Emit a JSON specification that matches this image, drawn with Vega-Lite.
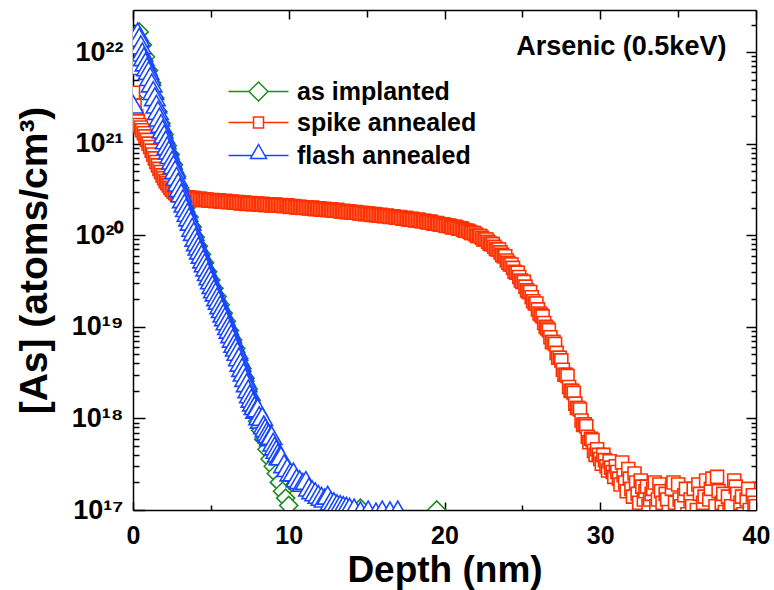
{
"$schema": "https://vega.github.io/schema/vega-lite/v6.json",
"width": 623, "height": 500,
"autosize": {"type": "none"},
"padding": {"left": 133, "top": 10, "right": 18, "bottom": 80},
"background": "white",
"config": {
  "font": "Liberation Sans",
  "view": {"stroke": null},
  "axis": {"domainColor": "black", "domainWidth": 1.5, "tickColor": "black", "tickWidth": 1.5, "grid": false,
           "labelFont": "Liberation Sans", "labelFontWeight": "bold", "labelColor": "black",
           "titleFont": "Liberation Sans", "titleFontWeight": "bold", "titleColor": "black",
           "labelFlush": false, "labelBound": false, "labelOverlap": false}
},
"datasets": {
"pts": [
{"s":"g","d":0,"c":3.2e21},{"s":"g","d":0.2,"c":1.26e22},{"s":"g","d":0.4,"c":1.66e22},{"s":"g","d":0.6,"c":1.2e22},{"s":"g","d":0.8,"c":8.9e21},{"s":"g","d":1.0,"c":6.3e21},{"s":"g","d":1.2,"c":4.6e21},{"s":"g","d":1.4,"c":3.16e21},{"s":"g","d":1.6,"c":2.24e21},{"s":"g","d":1.8,"c":1.66e21},{"s":"g","d":2.0,"c":1.26e21},{"s":"g","d":2.2,"c":9.5e20},{"s":"g","d":2.4,"c":7.6e20},{"s":"g","d":2.6,"c":5.9e20},{"s":"g","d":2.8,"c":4.4e20},{"s":"g","d":3.0,"c":3.3e20},{"s":"g","d":3.2,"c":2.5e20},{"s":"g","d":3.4,"c":2.0e20},{"s":"g","d":3.6,"c":1.58e20},{"s":"g","d":3.8,"c":1.23e20},{"s":"g","d":4.0,"c":9.5e19},{"s":"g","d":4.2,"c":7.6e19},{"s":"g","d":4.4,"c":6.2e19},{"s":"g","d":4.6,"c":5.0e19},{"s":"g","d":4.8,"c":4.0e19},{"s":"g","d":5.0,"c":3.24e19},{"s":"g","d":5.2,"c":2.63e19},{"s":"g","d":5.4,"c":2.14e19},{"s":"g","d":5.6,"c":1.74e19},{"s":"g","d":5.8,"c":1.41e19},{"s":"g","d":6.0,"c":1.15e19},{"s":"g","d":6.2,"c":9.1e18},{"s":"g","d":6.4,"c":7.2e18},{"s":"g","d":6.6,"c":5.8e18},{"s":"g","d":6.8,"c":4.5e18},{"s":"g","d":7.0,"c":3.5e18},{"s":"g","d":7.2,"c":2.75e18},{"s":"g","d":7.4,"c":2.1e18},{"s":"g","d":7.6,"c":1.58e18},{"s":"g","d":7.8,"c":1.2e18},{"s":"g","d":8.0,"c":9.3e17},{"s":"g","d":8.2,"c":7.4e17},{"s":"g","d":8.4,"c":5.9e17},{"s":"g","d":8.6,"c":4.6e17},{"s":"g","d":8.8,"c":3.6e17},{"s":"g","d":9.0,"c":3.0e17},{"s":"g","d":9.2,"c":2.5e17},{"s":"g","d":9.4,"c":2.0e17},{"s":"g","d":9.6,"c":1.6e17},{"s":"g","d":9.8,"c":1.35e17},{"s":"g","d":10.0,"c":1.12e17},{"s":"g","d":14.6,"c":1.05e17},{"s":"g","d":19.5,"c":1.0e17},
{"s":"r","d":0,"c":3.6e21},{"s":"r","d":0.1,"c":2.6e21},{"s":"r","d":0.2,"c":2.0e21},{"s":"r","d":0.3,"c":1.75e21},{"s":"r","d":0.4,"c":1.6e21},{"s":"r","d":0.5,"c":1.5e21},{"s":"r","d":0.6,"c":1.4e21},{"s":"r","d":0.7,"c":1.3e21},{"s":"r","d":0.8,"c":1.2e21},{"s":"r","d":0.9,"c":1.1e21},{"s":"r","d":1.0,"c":1.0e21},{"s":"r","d":1.1,"c":9.2e20},{"s":"r","d":1.2,"c":8.4e20},{"s":"r","d":1.3,"c":7.6e20},{"s":"r","d":1.4,"c":6.9e20},{"s":"r","d":1.5,"c":6.3e20},{"s":"r","d":1.6,"c":5.8e20},{"s":"r","d":1.7,"c":5.3e20},{"s":"r","d":1.8,"c":4.9e20},{"s":"r","d":1.9,"c":4.5e20},{"s":"r","d":2.0,"c":4.2e20},{"s":"r","d":2.1,"c":3.9e20},{"s":"r","d":2.2,"c":3.7e20},{"s":"r","d":2.3,"c":3.5e20},{"s":"r","d":2.4,"c":3.3e20},{"s":"r","d":2.5,"c":3.15e20},{"s":"r","d":2.6,"c":3.0e20},{"s":"r","d":2.7,"c":2.9e20},{"s":"r","d":2.8,"c":2.8e20},{"s":"r","d":2.9,"c":2.75e20},{"s":"r","d":3.0,"c":2.7e20},
{"s":"r","d":3.1,"c":2.68e20},{"s":"r","d":3.2,"c":2.64e20},{"s":"r","d":3.3,"c":2.58e20},{"s":"r","d":3.4,"c":2.6e20},{"s":"r","d":3.5,"c":2.6e20},{"s":"r","d":3.6,"c":2.56e20},{"s":"r","d":3.7,"c":2.52e20},{"s":"r","d":3.8,"c":2.54e20},{"s":"r","d":3.9,"c":2.55e20},{"s":"r","d":4.0,"c":2.5e20},{"s":"r","d":4.1,"c":2.47e20},{"s":"r","d":4.2,"c":2.5e20},{"s":"r","d":4.3,"c":2.5e20},{"s":"r","d":4.4,"c":2.46e20},{"s":"r","d":4.5,"c":2.42e20},{"s":"r","d":4.6,"c":2.45e20},{"s":"r","d":4.7,"c":2.46e20},{"s":"r","d":4.8,"c":2.42e20},{"s":"r","d":4.9,"c":2.38e20},{"s":"r","d":5.0,"c":2.4e20},{"s":"r","d":5.1,"c":2.43e20},{"s":"r","d":5.2,"c":2.41e20},{"s":"r","d":5.3,"c":2.36e20},{"s":"r","d":5.4,"c":2.38e20},{"s":"r","d":5.5,"c":2.39e20},{"s":"r","d":5.6,"c":2.36e20},{"s":"r","d":5.7,"c":2.33e20},{"s":"r","d":5.8,"c":2.35e20},{"s":"r","d":5.9,"c":2.37e20},{"s":"r","d":6.0,"c":2.34e20},{"s":"r","d":6.1,"c":2.3e20},{"s":"r","d":6.2,"c":2.32e20},{"s":"r","d":6.3,"c":2.34e20},{"s":"r","d":6.4,"c":2.3e20},{"s":"r","d":6.5,"c":2.26e20},{"s":"r","d":6.6,"c":2.28e20},{"s":"r","d":6.7,"c":2.3e20},{"s":"r","d":6.8,"c":2.27e20},{"s":"r","d":6.9,"c":2.23e20},{"s":"r","d":7.0,"c":2.25e20},{"s":"r","d":7.1,"c":2.27e20},{"s":"r","d":7.2,"c":2.24e20},{"s":"r","d":7.3,"c":2.2e20},{"s":"r","d":7.4,"c":2.22e20},{"s":"r","d":7.5,"c":2.24e20},{"s":"r","d":7.6,"c":2.21e20},{"s":"r","d":7.7,"c":2.18e20},{"s":"r","d":7.8,"c":2.2e20},{"s":"r","d":7.9,"c":2.22e20},{"s":"r","d":8.0,"c":2.2e20},{"s":"r","d":8.1,"c":2.16e20},{"s":"r","d":8.2,"c":2.18e20},{"s":"r","d":8.3,"c":2.2e20},{"s":"r","d":8.4,"c":2.17e20},{"s":"r","d":8.5,"c":2.13e20},{"s":"r","d":8.6,"c":2.16e20},{"s":"r","d":8.7,"c":2.18e20},{"s":"r","d":8.8,"c":2.15e20},{"s":"r","d":8.9,"c":2.12e20},{"s":"r","d":9.0,"c":2.14e20},{"s":"r","d":9.1,"c":2.16e20},{"s":"r","d":9.2,"c":2.13e20},{"s":"r","d":9.3,"c":2.1e20},{"s":"r","d":9.4,"c":2.12e20},{"s":"r","d":9.5,"c":2.14e20},{"s":"r","d":9.6,"c":2.1e20},{"s":"r","d":9.7,"c":2.08e20},{"s":"r","d":9.8,"c":2.1e20},{"s":"r","d":9.9,"c":2.12e20},{"s":"r","d":10.0,"c":2.08e20},{"s":"r","d":10.1,"c":2.04e20},{"s":"r","d":10.2,"c":2.06e20},{"s":"r","d":10.3,"c":2.08e20},{"s":"r","d":10.4,"c":2.05e20},{"s":"r","d":10.5,"c":2.01e20},{"s":"r","d":10.6,"c":2.03e20},{"s":"r","d":10.7,"c":2.05e20},{"s":"r","d":10.8,"c":2.02e20},{"s":"r","d":10.9,"c":1.99e20},{"s":"r","d":11.0,"c":2.0e20},{"s":"r","d":11.1,"c":2.02e20},{"s":"r","d":11.2,"c":1.99e20},{"s":"r","d":11.3,"c":1.96e20},{"s":"r","d":11.4,"c":1.98e20},{"s":"r","d":11.5,"c":2.0e20},{"s":"r","d":11.6,"c":1.96e20},{"s":"r","d":11.7,"c":1.93e20},{"s":"r","d":11.8,"c":1.95e20},{"s":"r","d":11.9,"c":1.97e20},{"s":"r","d":12.0,"c":1.94e20},{"s":"r","d":12.1,"c":1.9e20},{"s":"r","d":12.2,"c":1.92e20},{"s":"r","d":12.3,"c":1.94e20},{"s":"r","d":12.4,"c":1.91e20},{"s":"r","d":12.5,"c":1.88e20},{"s":"r","d":12.6,"c":1.9e20},{"s":"r","d":12.7,"c":1.92e20},{"s":"r","d":12.8,"c":1.88e20},{"s":"r","d":12.9,"c":1.85e20},{"s":"r","d":13.0,"c":1.87e20},{"s":"r","d":13.1,"c":1.89e20},{"s":"r","d":13.2,"c":1.85e20},{"s":"r","d":13.3,"c":1.82e20},{"s":"r","d":13.4,"c":1.83e20},{"s":"r","d":13.5,"c":1.85e20},{"s":"r","d":13.6,"c":1.82e20},{"s":"r","d":13.7,"c":1.79e20},{"s":"r","d":13.8,"c":1.8e20},{"s":"r","d":13.9,"c":1.82e20},{"s":"r","d":14.0,"c":1.79e20},{"s":"r","d":14.1,"c":1.76e20},{"s":"r","d":14.2,"c":1.77e20},{"s":"r","d":14.3,"c":1.79e20},{"s":"r","d":14.4,"c":1.76e20},{"s":"r","d":14.5,"c":1.73e20},{"s":"r","d":14.6,"c":1.74e20},{"s":"r","d":14.7,"c":1.76e20},{"s":"r","d":14.8,"c":1.73e20},{"s":"r","d":14.9,"c":1.7e20},{"s":"r","d":15.0,"c":1.71e20},{"s":"r","d":15.1,"c":1.73e20},{"s":"r","d":15.2,"c":1.7e20},{"s":"r","d":15.3,"c":1.67e20},{"s":"r","d":15.4,"c":1.68e20},{"s":"r","d":15.5,"c":1.7e20},{"s":"r","d":15.6,"c":1.67e20},{"s":"r","d":15.7,"c":1.64e20},{"s":"r","d":15.8,"c":1.65e20},{"s":"r","d":15.9,"c":1.67e20},{"s":"r","d":16.0,"c":1.64e20},{"s":"r","d":16.1,"c":1.61e20},{"s":"r","d":16.2,"c":1.62e20},{"s":"r","d":16.3,"c":1.64e20},{"s":"r","d":16.4,"c":1.61e20},{"s":"r","d":16.5,"c":1.58e20},{"s":"r","d":16.6,"c":1.59e20},{"s":"r","d":16.7,"c":1.61e20},{"s":"r","d":16.8,"c":1.58e20},{"s":"r","d":16.9,"c":1.55e20},{"s":"r","d":17.0,"c":1.56e20},{"s":"r","d":17.1,"c":1.58e20},{"s":"r","d":17.2,"c":1.55e20},{"s":"r","d":17.3,"c":1.52e20},{"s":"r","d":17.4,"c":1.53e20},{"s":"r","d":17.5,"c":1.55e20},{"s":"r","d":17.6,"c":1.51e20},{"s":"r","d":17.7,"c":1.48e20},{"s":"r","d":17.8,"c":1.5e20},{"s":"r","d":17.9,"c":1.51e20},{"s":"r","d":18.0,"c":1.48e20},{"s":"r","d":18.1,"c":1.45e20},{"s":"r","d":18.2,"c":1.46e20},{"s":"r","d":18.3,"c":1.48e20},{"s":"r","d":18.4,"c":1.45e20},{"s":"r","d":18.5,"c":1.42e20},{"s":"r","d":18.6,"c":1.43e20},{"s":"r","d":18.7,"c":1.44e20},{"s":"r","d":18.8,"c":1.41e20},{"s":"r","d":18.9,"c":1.38e20},{"s":"r","d":19.0,"c":1.39e20},{"s":"r","d":19.1,"c":1.41e20},{"s":"r","d":19.2,"c":1.37e20},{"s":"r","d":19.3,"c":1.34e20},{"s":"r","d":19.4,"c":1.35e20},{"s":"r","d":19.5,"c":1.36e20},{"s":"r","d":19.6,"c":1.33e20},{"s":"r","d":19.7,"c":1.3e20},{"s":"r","d":19.8,"c":1.31e20},{"s":"r","d":19.9,"c":1.32e20},{"s":"r","d":20.0,"c":1.29e20},{"s":"r","d":20.1,"c":1.26e20},{"s":"r","d":20.2,"c":1.27e20},{"s":"r","d":20.3,"c":1.28e20},{"s":"r","d":20.4,"c":1.25e20},{"s":"r","d":20.5,"c":1.22e20},{"s":"r","d":20.6,"c":1.23e20},{"s":"r","d":20.7,"c":1.24e20},{"s":"r","d":20.8,"c":1.21e20},{"s":"r","d":20.9,"c":1.18e20},{"s":"r","d":21.0,"c":1.18e20},{"s":"r","d":21.1,"c":1.18e20},{"s":"r","d":21.2,"c":1.15e20},{"s":"r","d":21.3,"c":1.12e20},{"s":"r","d":21.4,"c":1.12e20},{"s":"r","d":21.5,"c":1.12e20},{"s":"r","d":21.6,"c":1.09e20},{"s":"r","d":21.7,"c":1.06e20},{"s":"r","d":21.8,"c":1.06e20},{"s":"r","d":21.9,"c":1.06e20},{"s":"r","d":22.0,"c":1.02e20},{"s":"r","d":22.1,"c":9.8e19},{"s":"r","d":22.2,"c":9.8e19},{"s":"r","d":22.3,"c":9.8e19},{"s":"r","d":22.4,"c":9.4e19},{"s":"r","d":22.5,"c":9.0e19},{"s":"r","d":22.6,"c":9.0e19},{"s":"r","d":22.7,"c":9.0e19},{"s":"r","d":22.8,"c":8.5e19},{"s":"r","d":22.9,"c":8.1e19},{"s":"r","d":23.0,"c":8.0e19},{"s":"r","d":23.1,"c":8.0e19},{"s":"r","d":23.2,"c":7.5e19},{"s":"r","d":23.3,"c":7.1e19},{"s":"r","d":23.4,"c":7.0e19},{"s":"r","d":23.5,"c":7.0e19},{"s":"r","d":23.6,"c":6.5e19},{"s":"r","d":23.7,"c":6.1e19},{"s":"r","d":23.8,"c":5.9e19},{"s":"r","d":23.9,"c":5.9e19},{"s":"r","d":24.0,"c":5.3e19},{"s":"r","d":24.1,"c":5.0e19},{"s":"r","d":24.2,"c":4.8e19},{"s":"r","d":24.3,"c":4.8e19},{"s":"r","d":24.4,"c":4.4e19},{"s":"r","d":24.5,"c":4.0e19},{"s":"r","d":24.6,"c":3.9e19},{"s":"r","d":24.7,"c":3.9e19},{"s":"r","d":24.8,"c":3.5e19},{"s":"r","d":24.9,"c":3.2e19},{"s":"r","d":25.0,"c":3.1e19},{"s":"r","d":25.1,"c":3.1e19},{"s":"r","d":25.2,"c":2.75e19},{"s":"r","d":25.3,"c":2.5e19},{"s":"r","d":25.4,"c":2.4e19},{"s":"r","d":25.5,"c":2.4e19},{"s":"r","d":25.6,"c":2.1e19},{"s":"r","d":25.7,"c":1.9e19},{"s":"r","d":25.8,"c":1.8e19},{"s":"r","d":25.9,"c":1.8e19},{"s":"r","d":26.0,"c":1.55e19},{"s":"r","d":26.1,"c":1.4e19},{"s":"r","d":26.2,"c":1.35e19},{"s":"r","d":26.3,"c":1.3e19},{"s":"r","d":26.4,"c":1.1e19},{"s":"r","d":26.5,"c":1.0e19},{"s":"r","d":26.6,"c":9.6e18},{"s":"r","d":26.7,"c":9.2e18},{"s":"r","d":26.8,"c":7.7e18},{"s":"r","d":26.9,"c":6.8e18},{"s":"r","d":27.0,"c":6.8e18},{"s":"r","d":27.1,"c":6.5e18},{"s":"r","d":27.2,"c":5.2e18},{"s":"r","d":27.3,"c":4.6e18},{"s":"r","d":27.4,"c":4.6e18},{"s":"r","d":27.5,"c":4.3e18},{"s":"r","d":27.6,"c":3.4e18},{"s":"r","d":27.7,"c":3.0e18},{"s":"r","d":27.8,"c":3.0e18},{"s":"r","d":27.9,"c":2.9e18},{"s":"r","d":28.0,"c":2.2e18},{"s":"r","d":28.1,"c":2.0e18},{"s":"r","d":28.2,"c":2.0e18},{"s":"r","d":28.3,"c":1.9e18},{"s":"r","d":28.4,"c":1.45e18},{"s":"r","d":28.5,"c":1.3e18},{"s":"r","d":28.6,"c":1.3e18},{"s":"r","d":28.7,"c":1.25e18},{"s":"r","d":28.8,"c":9.5e17},{"s":"r","d":28.9,"c":8.5e17},{"s":"r","d":29.0,"c":8.6e17},{"s":"r","d":29.1,"c":8.2e17},{"s":"r","d":29.2,"c":6.3e17},{"s":"r","d":29.3,"c":5.5e17},{"s":"r","d":29.4,"c":6.0e17},{"s":"r","d":29.5,"c":5.8e17},{"s":"r","d":29.6,"c":4.4e17},{"s":"r","d":29.7,"c":4.0e17},{"s":"r","d":29.8,"c":4.6e17},{"s":"r","d":29.9,"c":4.0e17},{"s":"r","d":30.0,"c":3.6e17},{"s":"r","d":30.1,"c":3.2e17},{"s":"r","d":30.2,"c":4.0e17},{"s":"r","d":30.3,"c":3.5e17},{"s":"r","d":30.4,"c":3.0e17},{"s":"r","d":30.5,"c":2.7e17},{"s":"r","d":30.6,"c":3.4e17},{"s":"r","d":30.7,"c":2.9e17},{"s":"r","d":30.8,"c":2.6e17},{"s":"r","d":30.9,"c":2.3e17},{"s":"r","d":31.0,"c":3.0e17},{"s":"r","d":31.1,"c":2.6e17},{"s":"r","d":31.2,"c":2.2e17},{"s":"r","d":31.3,"c":1.9e17},{"s":"r","d":31.4,"c":3.3e17},{"s":"r","d":31.5,"c":2.4e17},{"s":"r","d":31.6,"c":2.0e17},{"s":"r","d":31.7,"c":1.6e17},{"s":"r","d":31.8,"c":2.8e17},{"s":"r","d":31.9,"c":2.2e17},{"s":"r","d":32.0,"c":1.7e17},{"s":"r","d":32.1,"c":1.4e17},{"s":"r","d":32.2,"c":2.5e17},{"s":"r","d":32.3,"c":2.0e17},{"s":"r","d":32.4,"c":1.5e17},{"s":"r","d":32.5,"c":1.2e17},{"s":"r","d":32.6,"c":2.1e17},{"s":"r","d":32.7,"c":1.8e17},{"s":"r","d":32.8,"c":1.3e17},{"s":"r","d":32.9,"c":1.6e17},{"s":"r","d":33.0,"c":1.8e17},{"s":"r","d":33.1,"c":1.1e17},{"s":"r","d":33.2,"c":1.3e17},{"s":"r","d":33.3,"c":1.5e17},{"s":"r","d":33.4,"c":1.7e17},{"s":"r","d":33.5,"c":2.0e17},{"s":"r","d":33.6,"c":1.1e17},{"s":"r","d":33.7,"c":1.3e17},{"s":"r","d":33.8,"c":1.9e17},{"s":"r","d":33.9,"c":1.6e17},{"s":"r","d":34.0,"c":1.2e17},{"s":"r","d":34.2,"c":1.5e17},{"s":"r","d":34.3,"c":1.3e17},{"s":"r","d":34.4,"c":0.95e17},{"s":"r","d":34.6,"c":1.7e17},{"s":"r","d":34.7,"c":2.0e17},{"s":"r","d":34.8,"c":1.2e17},{"s":"r","d":35.0,"c":1.9e17},{"s":"r","d":35.1,"c":1.3e17},{"s":"r","d":35.2,"c":1.1e17},{"s":"r","d":35.4,"c":1.45e17},{"s":"r","d":35.5,"c":1.7e17},{"s":"r","d":35.6,"c":0.9e17},{"s":"r","d":35.8,"c":1.3e17},{"s":"r","d":35.9,"c":1.1e17},{"s":"r","d":36.0,"c":1.7e17},{"s":"r","d":36.2,"c":1.0e17},{"s":"r","d":36.3,"c":1.9e17},{"s":"r","d":36.4,"c":1.5e17},{"s":"r","d":36.6,"c":1.2e17},{"s":"r","d":36.7,"c":1.4e17},{"s":"r","d":36.8,"c":2.1e17},{"s":"r","d":37.0,"c":1.3e17},{"s":"r","d":37.1,"c":1.7e17},{"s":"r","d":37.2,"c":2.2e17},{"s":"r","d":37.4,"c":1.1e17},{"s":"r","d":37.5,"c":2.3e17},{"s":"r","d":37.6,"c":1.6e17},{"s":"r","d":37.8,"c":1.2e17},{"s":"r","d":37.9,"c":1.5e17},{"s":"r","d":38.0,"c":0.95e17},{"s":"r","d":38.2,"c":1.4e17},{"s":"r","d":38.3,"c":1.0e17},{"s":"r","d":38.4,"c":1.1e17},{"s":"r","d":38.6,"c":2.1e17},{"s":"r","d":38.7,"c":1.8e17},{"s":"r","d":38.8,"c":1.5e17},{"s":"r","d":39.0,"c":1.2e17},{"s":"r","d":39.1,"c":1.4e17},{"s":"r","d":39.2,"c":0.9e17},{"s":"r","d":39.4,"c":1.3e17},{"s":"r","d":39.5,"c":1.7e17},{"s":"r","d":39.6,"c":1.0e17},{"s":"r","d":39.8,"c":1.45e17},{"s":"r","d":39.9,"c":1.2e17},{"s":"r","d":40.0,"c":1.1e17},
{"s":"b","d":0,"c":2.7e21},{"s":"b","d":0.1,"c":7.1e21},{"s":"b","d":0.2,"c":1.41e22},{"s":"b","d":0.3,"c":1.66e22},{"s":"b","d":0.4,"c":1.45e22},{"s":"b","d":0.5,"c":1.2e22},{"s":"b","d":0.6,"c":1.0e22},{"s":"b","d":0.7,"c":8.9e21},{"s":"b","d":0.8,"c":7.8e21},{"s":"b","d":0.9,"c":6.9e21},{"s":"b","d":1.0,"c":6.3e21},{"s":"b","d":1.1,"c":5.4e21},{"s":"b","d":1.2,"c":4.6e21},{"s":"b","d":1.3,"c":3.8e21},{"s":"b","d":1.4,"c":3.25e21},{"s":"b","d":1.5,"c":2.7e21},{"s":"b","d":1.6,"c":2.3e21},{"s":"b","d":1.7,"c":1.95e21},{"s":"b","d":1.8,"c":1.66e21},{"s":"b","d":1.9,"c":1.44e21},{"s":"b","d":2.0,"c":1.27e21},{"s":"b","d":2.1,"c":1.1e21},{"s":"b","d":2.2,"c":9.5e20},{"s":"b","d":2.3,"c":8.5e20},{"s":"b","d":2.4,"c":7.6e20},{"s":"b","d":2.5,"c":6.6e20},{"s":"b","d":2.6,"c":5.9e20},{"s":"b","d":2.7,"c":5.2e20},{"s":"b","d":2.8,"c":4.4e20},{"s":"b","d":2.9,"c":3.8e20},{"s":"b","d":3.0,"c":3.3e20},{"s":"b","d":3.1,"c":2.9e20},{"s":"b","d":3.2,"c":2.5e20},{"s":"b","d":3.3,"c":2.24e20},{"s":"b","d":3.4,"c":2.0e20},{"s":"b","d":3.5,"c":1.78e20},{"s":"b","d":3.6,"c":1.58e20},{"s":"b","d":3.7,"c":1.42e20},{"s":"b","d":3.8,"c":1.22e20},{"s":"b","d":3.9,"c":1.1e20},{"s":"b","d":4.0,"c":9.5e19},{"s":"b","d":4.1,"c":8.5e19},{"s":"b","d":4.2,"c":7.6e19},{"s":"b","d":4.3,"c":6.9e19},{"s":"b","d":4.4,"c":6.2e19},{"s":"b","d":4.5,"c":5.5e19},{"s":"b","d":4.6,"c":5.0e19},{"s":"b","d":4.7,"c":4.5e19},{"s":"b","d":4.8,"c":4.0e19},{"s":"b","d":4.9,"c":3.6e19},{"s":"b","d":5.0,"c":3.25e19},{"s":"b","d":5.1,"c":2.9e19},{"s":"b","d":5.2,"c":2.6e19},{"s":"b","d":5.3,"c":2.4e19},{"s":"b","d":5.4,"c":2.13e19},{"s":"b","d":5.5,"c":1.95e19},{"s":"b","d":5.6,"c":1.74e19},{"s":"b","d":5.7,"c":1.58e19},{"s":"b","d":5.8,"c":1.41e19},{"s":"b","d":5.9,"c":1.29e19},{"s":"b","d":6.0,"c":1.16e19},{"s":"b","d":6.1,"c":1.03e19},{"s":"b","d":6.2,"c":9.4e18},{"s":"b","d":6.3,"c":8.4e18},{"s":"b","d":6.4,"c":7.5e18},{"s":"b","d":6.5,"c":6.6e18},{"s":"b","d":6.6,"c":6.0e18},{"s":"b","d":6.7,"c":5.4e18},{"s":"b","d":6.8,"c":4.7e18},{"s":"b","d":6.9,"c":4.1e18},{"s":"b","d":7.0,"c":3.6e18},{"s":"b","d":7.1,"c":3.2e18},{"s":"b","d":7.2,"c":2.8e18},{"s":"b","d":7.3,"c":2.45e18},{"s":"b","d":7.4,"c":2.1e18},{"s":"b","d":7.5,"c":1.85e18},{"s":"b","d":7.6,"c":1.66e18},{"s":"b","d":7.7,"c":1.51e18},{"s":"b","d":7.8,"c":1.38e18},{"s":"b","d":7.9,"c":1.26e18},{"s":"b","d":8.0,"c":1.3e18},{"s":"b","d":8.1,"c":1.07e18},{"s":"b","d":8.2,"c":9.8e17},{"s":"b","d":8.3,"c":1.05e18},{"s":"b","d":8.4,"c":8.5e17},{"s":"b","d":8.5,"c":7.9e17},{"s":"b","d":8.6,"c":7.2e17},{"s":"b","d":8.7,"c":6.8e17},{"s":"b","d":8.8,"c":6.3e17},{"s":"b","d":8.9,"c":6.5e17},{"s":"b","d":9.0,"c":5.5e17},{"s":"b","d":9.1,"c":5.0e17},{"s":"b","d":9.2,"c":4.6e17},{"s":"b","d":9.3,"c":4.2e17},{"s":"b","d":9.4,"c":3.9e17},{"s":"b","d":9.5,"c":3.9e17},{"s":"b","d":9.7,"c":3.2e17},{"s":"b","d":9.9,"c":2.9e17},{"s":"b","d":10.1,"c":2.6e17},{"s":"b","d":10.3,"c":2.6e17},{"s":"b","d":10.5,"c":2.24e17},{"s":"b","d":10.7,"c":2.14e17},{"s":"b","d":10.9,"c":2.0e17},{"s":"b","d":11.1,"c":2.1e17},{"s":"b","d":11.3,"c":1.78e17},{"s":"b","d":11.5,"c":1.66e17},{"s":"b","d":11.7,"c":1.58e17},{"s":"b","d":11.9,"c":1.48e17},{"s":"b","d":12.1,"c":1.41e17},{"s":"b","d":12.3,"c":1.35e17},{"s":"b","d":12.5,"c":1.45e17},{"s":"b","d":12.7,"c":1.26e17},{"s":"b","d":12.9,"c":1.23e17},{"s":"b","d":13.1,"c":1.17e17},{"s":"b","d":13.3,"c":1.15e17},{"s":"b","d":13.5,"c":1.12e17},{"s":"b","d":13.7,"c":1.1e17},{"s":"b","d":13.9,"c":1.07e17},{"s":"b","d":14.2,"c":1.05e17},{"s":"b","d":14.6,"c":0.98e17},{"s":"b","d":15.1,"c":1.0e17},{"s":"b","d":15.6,"c":0.95e17},{"s":"b","d":16.0,"c":1.0e17},{"s":"b","d":16.5,"c":0.98e17},{"s":"b","d":17.0,"c":1.0e17}
],
"note": [{"t": "Arsenic (0.5keV)"}]
},
"layer": [
  {
    "data": {"name": "pts"},
    "encoding": {
      "x": {"field": "d", "type": "quantitative",
            "scale": {"domain": [0, 40], "nice": false, "zero": false},
            "axis": {"orient": "bottom", "values": [0,5,10,15,20,25,30,35,40],
                     "labelExpr": "datum.value % 10 === 0 ? datum.label : ''",
                     "tickSize": {"condition": {"test": "datum.value % 10 === 0", "value": -8}, "value": -5},
                     "labelFontSize": 25, "labelPadding": 21,
                     "title": "Depth (nm)", "titleFontSize": 37, "titlePadding": 1}},
      "y": {"field": "c", "type": "quantitative",
            "scale": {"type": "log", "domain": [1e17, 2.88e22], "nice": false},
            "axis": {"orient": "left",
                     "values": [1e17,2e17,3e17,4e17,5e17,6e17,7e17,8e17,9e17,1e18,2e18,3e18,4e18,5e18,6e18,7e18,8e18,9e18,1e19,2e19,3e19,4e19,5e19,6e19,7e19,8e19,9e19,1e20,2e20,3e20,4e20,5e20,6e20,7e20,8e20,9e20,1e21,2e21,3e21,4e21,5e21,6e21,7e21,8e21,9e21,1e22,2e22],
                     "labelExpr": "abs(log(datum.value)/LN10 - round(log(datum.value)/LN10)) < 0.01 ? '10' + ['¹⁷','¹⁸','¹⁹','²⁰','²¹','²²'][round(log(datum.value)/LN10) - 17] : ''",
                     "tickSize": {"condition": {"test": "abs(log(datum.value)/LN10 - round(log(datum.value)/LN10)) < 0.01", "value": -12}, "value": -6},
                     "labelFontSize": 27, "labelPadding": 22,
                     "title": "[As] (atoms/cm³)", "titleFontSize": 39, "titlePadding": 17}}
    },
    "layer": [
      {"transform": [{"filter": "datum.s === 'g'"}],
       "mark": {"type": "point", "shape": "diamond", "size": 324, "filled": true, "fill": "white", "stroke": "#1b8c1b", "strokeWidth": 1.6, "opacity": 1, "clip": true}},
      {"transform": [{"filter": "datum.s === 'r'"}],
       "mark": {"type": "point", "shape": "square", "size": 169, "filled": true, "fill": "white", "stroke": "#ff3000", "strokeWidth": 1.6, "opacity": 1, "clip": true}},
      {"transform": [{"filter": "datum.s === 'b'"}],
       "mark": {"type": "point", "shape": "triangle-up", "size": 420, "filled": true, "fill": "white", "stroke": "#1846ff", "strokeWidth": 1.6, "opacity": 1, "clip": true}}
    ]
  },
  {
    "data": {"name": "pts"},
    "transform": [{"filter": "false"}],
    "mark": {"type": "point", "filled": false, "size": 4, "strokeWidth": 1.5, "opacity": 1},
    "encoding": {
      "x": {"field": "d", "type": "quantitative",
            "axis": {"orient": "top", "values": [0,5,10,15,20,25,30,35,40], "labels": false, "title": null,
                     "tickSize": {"condition": {"test": "datum.value % 10 === 0", "value": -9}, "value": -7}}},
      "y": {"field": "c", "type": "quantitative",
            "axis": {"orient": "right", "labels": false, "title": null,
                     "values": [1e17,2e17,3e17,4e17,5e17,6e17,7e17,8e17,9e17,1e18,2e18,3e18,4e18,5e18,6e18,7e18,8e18,9e18,1e19,2e19,3e19,4e19,5e19,6e19,7e19,8e19,9e19,1e20,2e20,3e20,4e20,5e20,6e20,7e20,8e20,9e20,1e21,2e21,3e21,4e21,5e21,6e21,7e21,8e21,9e21,1e22,2e22],
                     "tickSize": {"condition": {"test": "abs(log(datum.value)/LN10 - round(log(datum.value)/LN10)) < 0.01", "value": -10}, "value": -5}}},
      "stroke": {"field": "s", "type": "nominal",
                 "scale": {"domain": ["g", "r", "b"], "range": ["#1b8c1b", "#ff3000", "#1846ff"]},
                 "legend": {"orient": "none", "legendX": 113, "legendY": 69, "title": null, "padding": 0,
                            "symbolSize": 4, "symbolStrokeWidth": 1.5, "labelOffset": 26, "rowPadding": 5,
                            "labelFontSize": 25, "labelFontWeight": "bold", "labelColor": "black", "labelLimit": 400,
                            "labelExpr": "datum.label === 'g' ? 'as implanted' : datum.label === 'r' ? 'spike annealed' : 'flash annealed'"}},
      "shape": {"field": "s", "type": "nominal",
                "scale": {"domain": ["g", "r", "b"],
                          "range": ["M-30,0H-9.5M9.5,0H30M-9.5,0L0,-9.5L9.5,0L0,9.5Z",
                                    "M-30,0H-5M5,0H30M-5,-5.5H5V5.5H-5Z",
                                    "M-30,0H-6.3M6.3,0H30M0,-11L-8,3L8,3Z"]},
                "legend": {"orient": "none", "legendX": 113, "legendY": 69, "title": null, "padding": 0,
                           "symbolSize": 4, "symbolStrokeWidth": 1.5, "labelOffset": 26, "rowPadding": 5,
                           "labelFontSize": 25, "labelFontWeight": "bold", "labelColor": "black", "labelLimit": 400,
                           "labelExpr": "datum.label === 'g' ? 'as implanted' : datum.label === 'r' ? 'spike annealed' : 'flash annealed'"}}
    }
  },
  {
    "data": {"name": "note"},
    "mark": {"type": "text", "align": "right", "baseline": "alphabetic", "fontSize": 27, "fontWeight": "bold", "color": "black"},
    "encoding": {
      "x": {"datum": 38.1, "type": "quantitative", "axis": null},
      "y": {"datum": 9.3e21, "type": "quantitative", "axis": null},
      "text": {"field": "t"}
    }
  }
],
"resolve": {"axis": {"x": "independent", "y": "independent"}}
}
